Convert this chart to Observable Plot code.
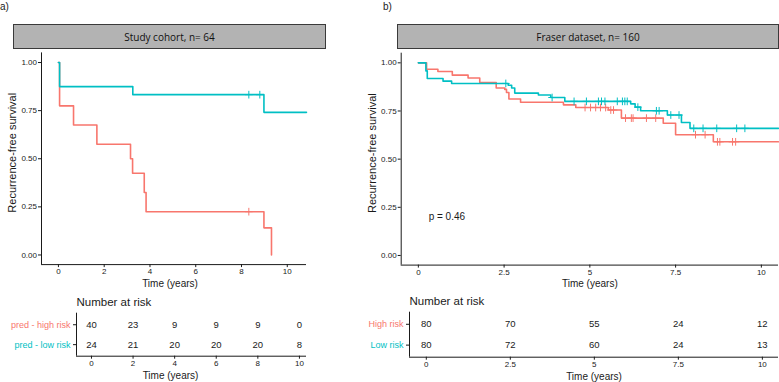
<!DOCTYPE html>
<html>
<head>
<meta charset="utf-8">
<script src="https://cdn.jsdelivr.net/npm/d3@7"></script>
<script src="https://cdn.jsdelivr.net/npm/@observablehq/plot@0.6"></script>
<style>
  body { margin: 0; background: #fff; }
  #fig { position: relative; width: 779px; height: 382px; overflow: hidden;
         font-family: "Liberation Sans", Arial, sans-serif; color: #1a1a1a; background: #fff; }
  .panel { position: absolute; }
  .strip { position: absolute; box-sizing: border-box; background: #b3b3b3; border: 1px solid #3a3a3a;
           font-family: "Open Sans", sans-serif; font-size: 10px; color: #111;
           display: flex; align-items: center; justify-content: center; }
  .tag { position: absolute; top: 1px; font-size: 10px; line-height: 12px; }
</style>
</head>
<body>
<div id="fig"></div>
<script>
// ---- Study cohort (Kaplan–Meier steps) ----
const cohortGroups = ["pred - high risk", "pred - low risk"];
const cohortHighTimes = [0, 0.05, 0.66, 1.68, 3.15, 3.24, 3.75, 3.83, 8.98, 9.31];
const cohortHighSurv  = [1, 0.775, 0.675, 0.575, 0.5, 0.425, 0.325, 0.225, 0.141, 0];
const cohortHighEnd = 9.31;
const cohortHighCensored = [8.32];
const cohortLowTimes = [0, 0.05, 3.25, 8.98];
const cohortLowSurv  = [1, 0.875, 0.833, 0.741];
const cohortLowEnd = 10.84;
const cohortLowCensored = [8.32, 8.8];
const cohortRiskTimes = [0, 2, 4, 6, 8, 10];
const cohortRiskHigh = [40, 23, 9, 9, 9, 0];
const cohortRiskLow  = [24, 21, 20, 20, 20, 8];
const cohortTitle = "Study cohort, n= 64";

// ---- Fraser dataset ----
const fraserGroups = ["High risk", "Low risk"];
const fraserHighTimes = [0, 0.24, 0.57, 0.99, 1.45, 1.79, 2.27, 2.52, 2.57, 2.64, 2.98, 4.23, 4.59, 5.54, 5.92, 7.14, 7.5, 8.6];
const fraserHighSurv  = [1, 0.967, 0.955, 0.936, 0.921, 0.898, 0.869, 0.862, 0.846, 0.812, 0.795, 0.782, 0.768, 0.755, 0.713, 0.686, 0.627, 0.59];
const fraserHighEnd = 10.5;
const fraserHighCensored = [4.86, 5.02, 5.17, 5.31, 5.46, 5.61, 5.69, 6.04, 6.21, 6.26, 6.65, 6.92, 8.08, 8.36, 8.72, 8.79, 9.16, 9.25];
const fraserLowTimes = [0, 0.22, 0.26, 0.72, 0.97, 2.62, 2.72, 2.81, 3.5, 3.86, 4.27, 6.19, 6.32, 6.48, 7.26, 7.67, 7.92];
const fraserLowSurv  = [1, 0.958, 0.919, 0.905, 0.893, 0.884, 0.869, 0.843, 0.833, 0.82, 0.8, 0.787, 0.77, 0.751, 0.729, 0.69, 0.66];
const fraserLowEnd = 10.5;
const fraserLowCensored = [2.55, 3.9, 4.54, 4.9, 5.25, 5.34, 5.44, 5.8, 5.95, 6.02, 6.09, 6.4, 6.94, 7.02, 7.36, 7.6, 8.03, 8.3, 8.7, 9.28, 9.52];
const fraserRiskTimes = [0, 2.5, 5, 7.5, 10];
const fraserRiskHigh = [80, 70, 55, 24, 12];
const fraserRiskLow  = [80, 72, 60, 24, 13];
const fraserTitle = "Fraser dataset, n= 160";
const pLabel = "p = 0.46";
const pLabelAt = {t: 0.3, s: 0.2};

// ---- shared axis settings ----
const survTicks = [0, 0.25, 0.5, 0.75, 1];
const survDomain = [-0.05, 1.05];
const groupColors = ["#F8766D", "#00BFC4"];
const ink = "#1a1a1a";
const FONT = "'Liberation Sans', Arial, sans-serif";

// Step series: one point per change, plus a final point at the last follow-up.
function steps(times, surv, end, group) {
  const pts = times.map((t, i) => ({t, s: surv[i], group}));
  if (end > times[times.length - 1]) pts.push({t: end, s: surv[surv.length - 1], group});
  return pts;
}
function survivalAt(times, surv, t) {
  let s = surv[0];
  for (let i = 0; i < times.length; i++) if (times[i] <= t) s = surv[i];
  return s;
}
function marks(times, surv, censored, group) {
  return censored.map(t => ({t, s: survivalAt(times, surv, t), group}));
}
function riskRows(times, high, low) {
  return [
    ...times.map((t, i) => ({t, row: 1, n: high[i]})),
    ...times.map((t, i) => ({t, row: 2, n: low[i]}))
  ];
}

function survPlot(cfg) {
  return Plot.plot({
    width: cfg.width, height: cfg.height,
    marginLeft: cfg.ml, marginRight: cfg.mr, marginTop: cfg.mt, marginBottom: cfg.mb,
    style: {background: "none", fontFamily: FONT, fontSize: "8px", color: ink, overflow: "visible"},
    x: {domain: cfg.xDomain},
    y: {domain: survDomain},
    color: {domain: cfg.groups, range: groupColors},
    marks: [
      Plot.ruleX([cfg.xDomain[0]], {stroke: ink, strokeWidth: 1}),
      Plot.ruleY([survDomain[0]], {stroke: ink, strokeWidth: 1}),
      Plot.axisY({ticks: survTicks, tickFormat: d3.format(".2f"), tickSize: 3, tickPadding: 1.5, label: null}),
      Plot.axisX({ticks: cfg.xTicks, tickFormat: cfg.xFormat, tickSize: 3, tickPadding: 1, label: null}),
      Plot.line(cfg.lines, {x: "t", y: "s", z: "group", stroke: "group", curve: "step-after", strokeWidth: 1.6}),
      Plot.dot(cfg.censors, {x: "t", y: "s", stroke: "group", symbol: "plus", r: 2.6, strokeWidth: 1}),
      Plot.text(["Recurrence-free survival"], {frameAnchor: "left", textAnchor: "middle", lineAnchor: "middle",
        rotate: -90, dx: cfg.yTitleDx, dy: -6, fontSize: 11, fill: ink}),
      Plot.text(["Time (years)"], {frameAnchor: "bottom", textAnchor: "middle", lineAnchor: "middle",
        dy: 19, dx: cfg.xTitleDx, fontSize: 10, fill: ink}),
      ...(cfg.extra || [])
    ]
  });
}

function riskPlot(cfg) {
  const labels = cfg.groups.map((g, i) => ({row: i + 1, group: g}));
  return Plot.plot({
    width: cfg.width, height: cfg.height,
    marginLeft: cfg.ml, marginRight: cfg.mr, marginTop: cfg.mt, marginBottom: cfg.mb,
    style: {background: "none", fontFamily: FONT, fontSize: "8px", color: ink, overflow: "visible"},
    x: {domain: cfg.xDomain},
    y: {domain: [2.58, 0.42]},
    color: {domain: cfg.groups, range: groupColors},
    marks: [
      Plot.ruleX([cfg.xDomain[0]], {stroke: ink, strokeWidth: 1}),
      Plot.ruleY([2.58], {stroke: ink, strokeWidth: 1}),
      Plot.axisY({ticks: [1, 2], tickFormat: () => "", tickSize: 3, label: null}),
      Plot.axisX({ticks: cfg.xTicks, tickFormat: cfg.xFormat, tickSize: 3, tickPadding: 1, label: null}),
      Plot.text(labels, {y: "row", text: "group", fill: "group", frameAnchor: "left", textAnchor: "end",
        lineAnchor: "middle", dx: -6, fontSize: 9}),
      Plot.text(cfg.rows, {x: "t", y: "row", text: "n", fill: ink, fontSize: 9.5}),
      Plot.text(["Number at risk"], {frameAnchor: "top-left", textAnchor: "start", lineAnchor: "middle",
        dy: -11, fontSize: 11.5, fill: ink}),
      Plot.text(["Time (years)"], {frameAnchor: "bottom", textAnchor: "middle", lineAnchor: "middle",
        dy: 20, dx: cfg.xTitleDx, fontSize: 10, fill: ink})
    ]
  });
}

const fig = document.getElementById("fig");
function place(node, left, top) {
  const wrap = document.createElement("div");
  wrap.className = "panel";
  wrap.style.left = left + "px";
  wrap.style.top = top + "px";
  wrap.appendChild(node);
  fig.appendChild(wrap);
}
function addDiv(cls, text, css) {
  const d = document.createElement("div");
  d.className = cls;
  d.textContent = text;
  Object.assign(d.style, css);
  fig.appendChild(d);
}

// a) Study cohort
place(survPlot({
  width: 320, height: 250, ml: 41, mr: 14, mt: 7.4, mb: 30.9,
  xDomain: [-0.74, 10.84], xTicks: [0, 2, 4, 6, 8, 10], xFormat: d3.format("d"),
  groups: cohortGroups,
  lines: [...steps(cohortHighTimes, cohortHighSurv, cohortHighEnd, cohortGroups[0]),
          ...steps(cohortLowTimes, cohortLowSurv, cohortLowEnd, cohortGroups[1])],
  censors: [...marks(cohortHighTimes, cohortHighSurv, cohortHighCensored, cohortGroups[0]),
            ...marks(cohortLowTimes, cohortLowSurv, cohortLowCensored, cohortGroups[1])],
  yTitleDx: -29, xTitleDx: -4
}), 0, 45);

place(riskPlot({
  width: 320, height: 87, ml: 76, mr: 14, mt: 17.7, mb: 26.3,
  xDomain: [-0.72, 10.34], xTicks: [0, 2, 4, 6, 8, 10], xFormat: d3.format("d"),
  groups: cohortGroups,
  rows: riskRows(cohortRiskTimes, cohortRiskHigh, cohortRiskLow),
  xTitleDx: -21
}), 0, 295);

// b) Fraser dataset
place(survPlot({
  width: 449, height: 250, ml: 70.7, mr: 1, mt: 7.7, mb: 30.4,
  xDomain: [-0.5, 10.5], xTicks: [0, 2.5, 5, 7.5, 10], xFormat: d => String(d),
  groups: fraserGroups,
  lines: [...steps(fraserHighTimes, fraserHighSurv, fraserHighEnd, fraserGroups[0]),
          ...steps(fraserLowTimes, fraserLowSurv, fraserLowEnd, fraserGroups[1])],
  censors: [...marks(fraserHighTimes, fraserHighSurv, fraserHighCensored, fraserGroups[0]),
            ...marks(fraserLowTimes, fraserLowSurv, fraserLowCensored, fraserGroups[1])],
  yTitleDx: -29, xTitleDx: 0,
  extra: [Plot.text([pLabel], {x: () => pLabelAt.t, y: () => pLabelAt.s, textAnchor: "start", fontSize: 10, fill: ink})]
}), 330, 45);

place(riskPlot({
  width: 449, height: 87, ml: 79, mr: 1, mt: 16.7, mb: 25.3,
  xDomain: [-0.5, 10.48], xTicks: [0, 2.5, 5, 7.5, 10], xFormat: d => String(d),
  groups: fraserGroups,
  rows: riskRows(fraserRiskTimes, fraserRiskHigh, fraserRiskLow),
  xTitleDx: 0
}), 330, 295);

// facet strips and panel tags
addDiv("strip", cohortTitle, {left: "13px", top: "24px", width: "313px", height: "25px"});
addDiv("strip", fraserTitle, {left: "397px", top: "24px", width: "382px", height: "25px"});
addDiv("tag", "a)", {left: "0px"});
addDiv("tag", "b)", {left: "383px"});
</script>
</body>
</html>
